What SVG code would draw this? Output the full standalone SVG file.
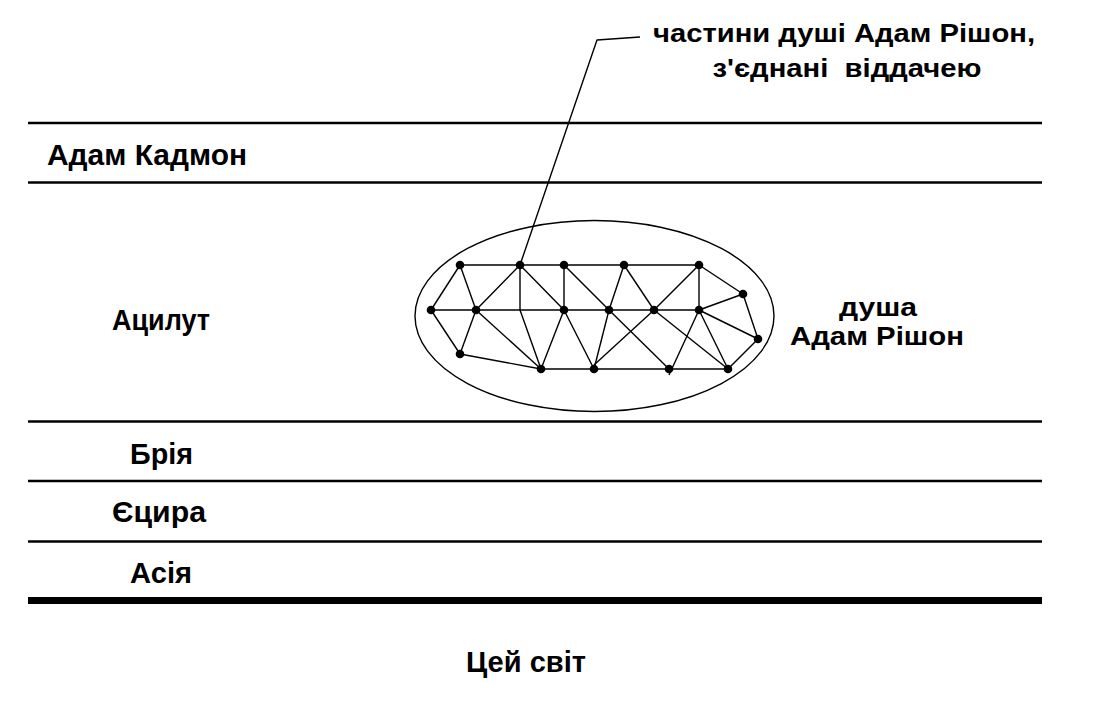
<svg xmlns="http://www.w3.org/2000/svg" width="1120" height="706" viewBox="0 0 1120 706">
<style>
  .band { stroke: #000; stroke-width: 2.6; fill: none; }
  .ground { stroke: #000; stroke-width: 7; fill: none; }
  .edge { stroke: #000; stroke-width: 1.4; fill: none; stroke-linejoin: round; }
  .dot { fill: #000; }
  .lbl { font-family: "Liberation Sans", Arial, sans-serif; font-weight: bold; fill: #000; }
</style>
<rect width="1120" height="706" fill="#fff"/>

<g id="bands">
  <line class="band" x1="28" y1="123" x2="1042" y2="123"/>
  <line class="band" x1="28" y1="182.5" x2="1042" y2="182.5"/>
  <line class="band" x1="28" y1="421.5" x2="1042" y2="421.5"/>
  <line class="band" x1="28" y1="481" x2="1042" y2="481"/>
  <line class="band" x1="28" y1="541.5" x2="1042" y2="541.5"/>
  <line class="ground" x1="28" y1="600.5" x2="1042" y2="600.5"/>
</g>

<g id="world-labels" font-size="29">
  <text class="lbl" x="47" y="164.5" textLength="200" lengthAdjust="spacingAndGlyphs">Адам Кадмон</text>
  <text class="lbl" x="112" y="329.5" textLength="98" lengthAdjust="spacingAndGlyphs">Ацилут</text>
  <text class="lbl" x="130" y="463.5" textLength="63" lengthAdjust="spacingAndGlyphs">Брія</text>
  <text class="lbl" x="112" y="522" textLength="94" lengthAdjust="spacingAndGlyphs">Єцира</text>
  <text class="lbl" x="130" y="582.5" textLength="62" lengthAdjust="spacingAndGlyphs">Асія</text>
  <text class="lbl" x="466" y="672" textLength="120" lengthAdjust="spacingAndGlyphs">Цей світ</text>
</g>

<g id="soul-label" font-size="26.5">
  <text class="lbl" x="839" y="316" textLength="78" lengthAdjust="spacingAndGlyphs">душа</text>
  <text class="lbl" x="790" y="345" textLength="174" lengthAdjust="spacingAndGlyphs">Адам Рішон</text>
</g>

<g id="parts-label" font-size="26.5">
  <text class="lbl" x="653" y="41.5" textLength="382" lengthAdjust="spacingAndGlyphs">частини душі Адам Рішон,</text>
  <text class="lbl" x="712.5" y="77" textLength="269" lengthAdjust="spacingAndGlyphs" xml:space="preserve">з'єднані  віддачею</text>
</g>

<g id="soul-ellipse">
  <ellipse class="edge" cx="594.5" cy="316" rx="179.5" ry="95.5"/>
</g>

<g id="connectors">
  <polyline class="edge" points="640,37 597,40 520,265"/>
  <line class="edge" x1="460" y1="265" x2="699" y2="265"/>
  <line class="edge" x1="431" y1="310" x2="699" y2="310"/>
  <line class="edge" x1="541" y1="369" x2="728" y2="369"/>
  <line class="edge" x1="460" y1="265" x2="431" y2="310"/>
  <line class="edge" x1="460" y1="265" x2="476" y2="310"/>
  <line class="edge" x1="431" y1="310" x2="460" y2="354"/>
  <line class="edge" x1="476" y1="310" x2="460" y2="354"/>
  <line class="edge" x1="460" y1="354" x2="541" y2="369"/>
  <line class="edge" x1="476" y1="310" x2="520" y2="265"/>
  <line class="edge" x1="476" y1="310" x2="541" y2="369"/>
  <polyline class="edge" points="520,265 520,310 541,369"/>
  <line class="edge" x1="520" y1="265" x2="564" y2="310"/>
  <line class="edge" x1="564" y1="265" x2="564" y2="310"/>
  <line class="edge" x1="564" y1="265" x2="609" y2="310"/>
  <line class="edge" x1="564" y1="310" x2="541" y2="369"/>
  <line class="edge" x1="564" y1="310" x2="594" y2="369"/>
  <line class="edge" x1="609" y1="310" x2="594" y2="369"/>
  <line class="edge" x1="609" y1="310" x2="624" y2="265"/>
  <line class="edge" x1="624" y1="265" x2="654" y2="310"/>
  <line class="edge" x1="609" y1="310" x2="669" y2="369"/>
  <line class="edge" x1="654" y1="310" x2="594" y2="365"/>
  <line class="edge" x1="654" y1="310" x2="699" y2="265"/>
  <line class="edge" x1="654" y1="310" x2="728" y2="369"/>
  <line class="edge" x1="699" y1="265" x2="699" y2="310"/>
  <line class="edge" x1="699" y1="265" x2="743" y2="294"/>
  <line class="edge" x1="699" y1="310" x2="743" y2="294"/>
  <line class="edge" x1="699" y1="310" x2="669" y2="375"/>
  <line class="edge" x1="699" y1="310" x2="728" y2="369"/>
  <line class="edge" x1="699" y1="310" x2="758" y2="339"/>
  <line class="edge" x1="743" y1="294" x2="758" y2="339"/>
  <line class="edge" x1="758" y1="339" x2="728" y2="369"/>
</g>

<g id="n-t1"><circle class="dot" cx="460" cy="265" r="4.3"/></g>
<g id="n-t2"><circle class="dot" cx="520" cy="265" r="4.3"/></g>
<g id="n-t3"><circle class="dot" cx="564" cy="265" r="4.3"/></g>
<g id="n-t4"><circle class="dot" cx="624" cy="265" r="4.3"/></g>
<g id="n-t5"><circle class="dot" cx="699" cy="265" r="4.3"/></g>
<g id="n-r1"><circle class="dot" cx="743" cy="294" r="4.3"/></g>
<g id="n-m1"><circle class="dot" cx="431" cy="310" r="4.3"/></g>
<g id="n-m2"><circle class="dot" cx="476" cy="310" r="4.3"/></g>
<g id="n-m3"><circle class="dot" cx="564" cy="310" r="4.3"/></g>
<g id="n-m4"><circle class="dot" cx="609" cy="310" r="4.3"/></g>
<g id="n-m5"><circle class="dot" cx="654" cy="310" r="4.3"/></g>
<g id="n-m6"><circle class="dot" cx="699" cy="310" r="4.3"/></g>
<g id="n-r2"><circle class="dot" cx="758" cy="339" r="4.3"/></g>
<g id="n-ll"><circle class="dot" cx="460" cy="354" r="4.3"/></g>
<g id="n-b1"><circle class="dot" cx="541" cy="369" r="4.3"/></g>
<g id="n-b2"><circle class="dot" cx="594" cy="369" r="4.3"/></g>
<g id="n-b3"><circle class="dot" cx="669" cy="369" r="4.3"/></g>
<g id="n-b4"><circle class="dot" cx="728" cy="369" r="4.3"/></g>
</svg>
